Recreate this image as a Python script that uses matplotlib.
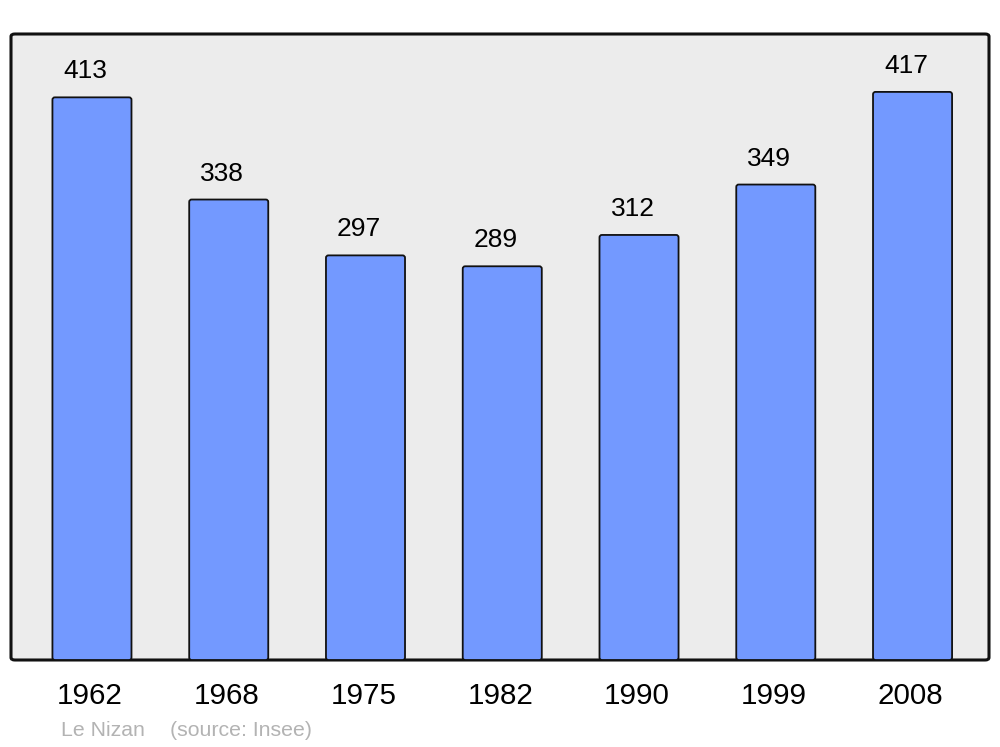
import matplotlib
matplotlib.use("Agg")
from matplotlib import pyplot as plt
from matplotlib.patches import FancyBboxPatch

plt.rcParams["font.family"] = ["Liberation Sans", "DejaVu Sans"]

years = ["1962", "1968", "1975", "1982", "1990", "1999", "2008"]
population = [413, 338, 297, 289, 312, 349, 417]
commune = "Le Nizan"
source = "(source: Insee)"

fig = plt.figure(figsize=(10, 7.47), dpi=100)
ax = fig.add_axes([0.011, 1 - 660 / 747, 0.978, 626 / 747])
ax.set_xlim(-0.592, 6.559)
ax.set_ylim(0, 459.5)
ax.axis("off")

# fond gris arrondi
frame = FancyBboxPatch((0, 0), 1, 1, boxstyle="round,pad=0,rounding_size=0.004",
                       transform=ax.transAxes, facecolor="#ececec",
                       edgecolor="#111111", linewidth=2.2, zorder=0, clip_on=False)
ax.add_patch(frame)

x = range(len(years))
for i, v in zip(x, population):
    bar = FancyBboxPatch((i - 0.289, 0), 0.578, v,
                         boxstyle="round,pad=0,rounding_size=0.018",
                         mutation_aspect=100,
                         facecolor="#7399ff", edgecolor="#111111",
                         linewidth=1.3, zorder=2)
    ax.add_patch(bar)
    ax.annotate(str(v), (i, v), xytext=(-6.5 * 0.72, 26 * 0.72),
                textcoords="offset points",
                ha="center", va="center", fontsize=19, color="black")
    ax.annotate(years[i], (i, 0), xytext=(-2 * 0.72, -36.5 * 0.72),
                textcoords="offset points", ha="center", va="center",
                fontsize=21.3, color="black", annotation_clip=False)

fig.text(0.061, 1 - 731 / 747, commune, ha="left", va="center",
         fontsize=15.3, color="#b3b3b3")
fig.text(0.170, 1 - 731 / 747, source, ha="left", va="center",
         fontsize=15.3, color="#b3b3b3")

fig.savefig("out.png", dpi=100)
